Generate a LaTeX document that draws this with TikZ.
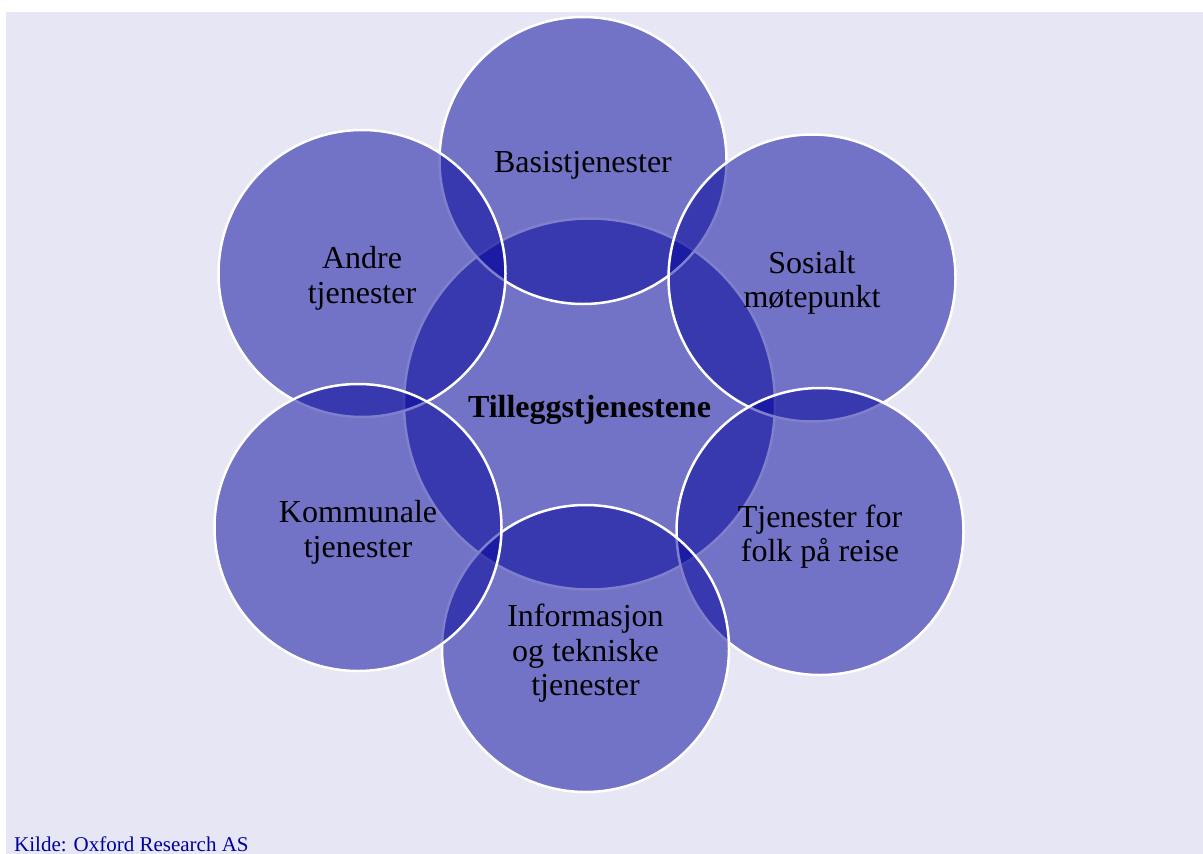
\documentclass[tikz,border=0pt]{standalone}
\usepackage{fontspec}
\setmainfont{Liberation Serif}
\definecolor{bgcol}{RGB}{230,230,244}
\definecolor{ringblue}{RGB}{0,0,153}
\definecolor{srcblue}{RGB}{0,0,160}
\tikzset{
  outer/.style={circle, draw=white, line width=2.5pt, fill=ringblue, fill opacity=0.5, minimum size=287pt, inner sep=0pt},
  inner/.style={circle, draw=white, line width=2.5pt, fill=ringblue, fill opacity=0.5, minimum size=371pt, inner sep=0pt},
  label/.style={align=center, text=black, font=\fontsize{32}{34.5}\selectfont, inner sep=0pt, yshift=-5pt}
}
\begin{document}
\begin{tikzpicture}[x=1pt,y=-1pt]
\useasboundingbox (0,0) rectangle (1203,854);
\fill[white] (0,0) rectangle (1203,854);
\fill[bgcol] (6,12) rectangle (1203,854);
% circles
\node[inner] (c) at (589.5,404) {};
\node[outer] (basis) at (583,160.5) {};
\node[outer] (andre) at (362,273.5) {};
\node[outer] (sosialt) at (812,278) {};
\node[outer] (reise) at (820,531.5) {};
\node[outer] (info) at (585.5,648.5) {};
\node[outer] (komm) at (358,527.5) {};
% labels
\node[label, font=\fontsize{32}{34.5}\selectfont\bfseries, yshift=-1pt] (tc) at (c.center) {Tilleggstjenestene};
\node[label] (tb) at (basis.center) {Basistjenester};
\node[label] (ta) at (andre.center) {Andre\\tjenester};
\node[label] (ts) at (sosialt.center) {Sosialt\\møtepunkt};
\node[label] (tr) at (reise.center) {Tjenester for\\folk på reise};
\node[label] (ti) at (info.center) {Informasjon\\og tekniske\\tjenester};
\node[label] (tk) at (komm.center) {Kommunale\\tjenester};
\node[anchor=base west, inner sep=0pt, text=srcblue, font=\fontsize{21}{24}\selectfont] (src) at (14,851) {Kilde: Oxford Research AS};
\end{tikzpicture}
\end{document}
